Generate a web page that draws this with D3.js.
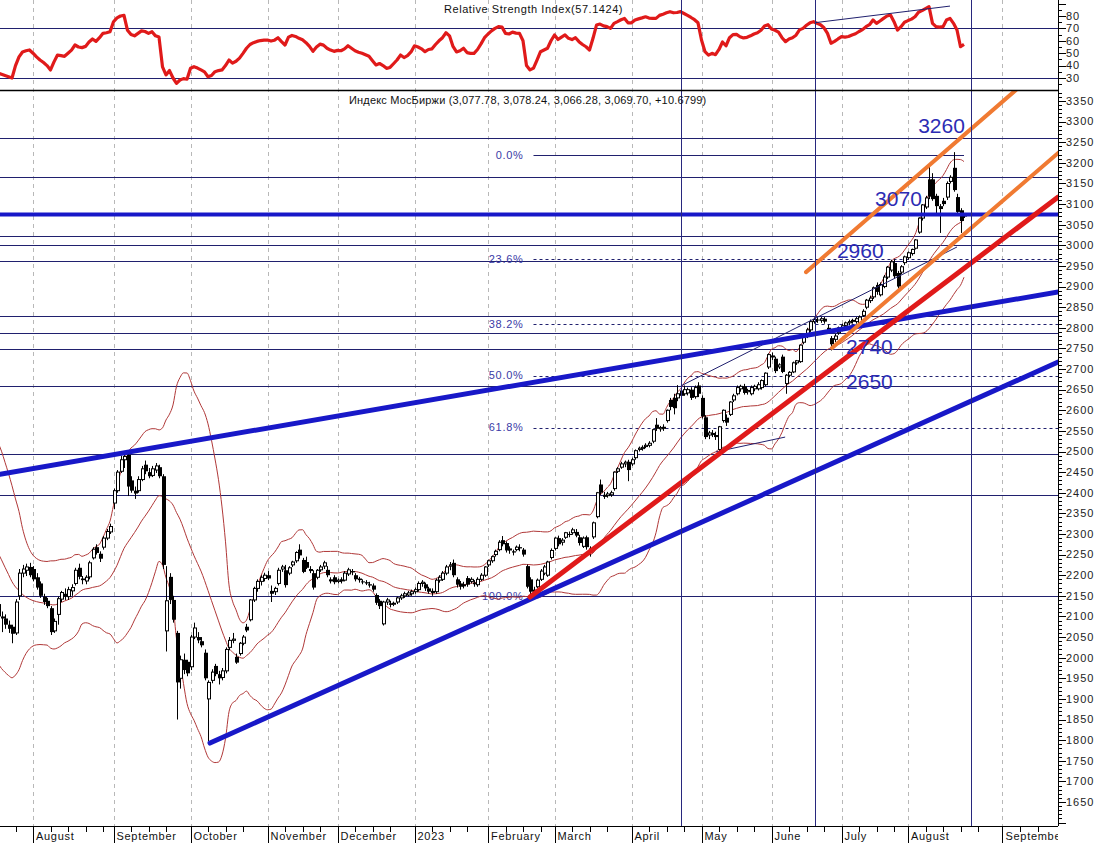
<!DOCTYPE html>
<html><head><meta charset="utf-8">
<script src="https://cdn.jsdelivr.net/npm/d3@7/dist/d3.min.js"></script>
<style>html,body{margin:0;padding:0;background:#fff;}svg{display:block;font-family:"Liberation Sans",Arial,sans-serif;}</style>
</head><body><svg id="c" width="1105" height="843"></svg>
<script>
// ---------------- DATA ----------------
const openP = [2130,2100,2095,2080,2075,2060,2150,2205,2212,2220,2215,2195,2180,2148,2138,2120,2065,2105,2142,2155,2148,2162,2180,2218,2192,2186,2196,2242,2268,2252,2268,2290,2305,2375,2405,2452,2480,2492,2430,2405,2405,2432,2468,2450,2442,2455,2462,2440,2065,2196,2140,2060,1950,1995,1990,1978,2050,2050,2040,2012,1900,1945,1980,1960,1952,1968,2025,2042,2002,2010,2035,2075,2092,2140,2168,2185,2192,2200,2162,2160,2180,2215,2212,2205,2225,2235,2262,2237,2232,2215,2205,2195,2213,2222,2213,2190,2195,2185,2190,2188,2203,2210,2200,2192,2185,2183,2178,2175,2152,2138,2082,2135,2132,2130,2135,2145,2150,2152,2155,2160,2165,2180,2178,2168,2162,2160,2188,2190,2205,2222,2230,2190,2180,2178,2193,2185,2182,2177,2190,2200,2225,2235,2250,2262,2285,2278,2265,2258,2262,2268,2262,2222,2190,2165,2172,2190,2205,2200,2243,2265,2290,2280,2292,2300,2303,2305,2292,2270,2292,2265,2293,2342,2420,2395,2393,2395,2410,2452,2462,2470,2475,2470,2485,2505,2507,2512,2515,2525,2565,2555,2560,2575,2625,2630,2630,2648,2640,2642,2650,2633,2660,2630,2583,2540,2545,2540,2505,2575,2582,2590,2625,2640,2652,2658,2645,2640,2652,2652,2655,2662,2705,2733,2725,2705,2730,2665,2685,2693,2715,2718,2765,2780,2795,2815,2820,2818,2822,2800,2775,2772,2788,2800,2806,2812,2816,2815,2812,2830,2850,2866,2875,2904,2880,2900,2923,2940,2957,2933,2935,2958,2970,2980,2993,3032,3066,3093,3160,3160,3120,3095,3108,3117,3155,3188,3117,3085,3077.78];
const highP = [2138,2112,2105,2090,2080,2142,2215,2225,2228,2230,2222,2205,2185,2155,2145,2125,2095,2148,2162,2168,2172,2178,2218,2228,2198,2200,2235,2268,2275,2258,2295,2312,2325,2410,2455,2490,2500,2500,2440,2415,2440,2465,2478,2460,2465,2472,2468,2445,2222,2205,2150,2065,2005,2010,1995,2055,2085,2062,2050,2020,1945,1972,1985,1968,1975,2025,2050,2060,2010,2038,2055,2082,2142,2172,2190,2200,2206,2210,2175,2172,2218,2225,2225,2222,2235,2258,2275,2242,2245,2222,2212,2215,2225,2235,2222,2195,2200,2192,2195,2210,2218,2215,2205,2196,2190,2188,2184,2180,2156,2142,2138,2145,2138,2136,2148,2155,2160,2162,2165,2170,2185,2188,2182,2172,2168,2192,2200,2210,2225,2232,2238,2195,2186,2184,2198,2195,2188,2195,2205,2222,2238,2248,2262,2285,2295,2282,2270,2262,2272,2275,2266,2226,2195,2172,2192,2215,2225,2235,2265,2292,2296,2290,2305,2306,2315,2312,2298,2294,2296,2270,2330,2402,2432,2402,2402,2405,2452,2462,2475,2478,2480,2485,2505,2512,2515,2520,2525,2555,2581,2562,2566,2602,2630,2640,2661,2658,2660,2655,2656,2660,2668,2636,2588,2550,2552,2548,2562,2602,2590,2622,2640,2660,2662,2664,2652,2660,2662,2668,2675,2692,2738,2740,2730,2714,2735,2688,2695,2718,2722,2760,2785,2800,2820,2825,2826,2826,2826,2808,2780,2785,2803,2810,2815,2820,2822,2826,2830,2845,2870,2878,2900,2910,2910,2928,2950,2965,2966,2938,2952,2975,2985,2992,3015,3068,3100,3120,3192,3175,3125,3100,3115,3155,3170,3226,3125,3090,3078.24];
const lowP = [2095,2062,2070,2060,2035,2055,2140,2195,2198,2195,2185,2165,2145,2128,2120,2055,2060,2080,2135,2140,2140,2150,2175,2190,2178,2178,2190,2238,2250,2232,2262,2285,2300,2360,2400,2448,2460,2392,2400,2385,2400,2428,2445,2435,2438,2448,2435,2215,2015,2130,2085,1850,1925,1960,1955,1970,2045,2035,2025,1945,1798,1938,1955,1935,1945,1962,2018,2035,1985,2005,2030,2062,2088,2135,2160,2175,2185,2188,2135,2152,2175,2208,2170,2200,2220,2230,2240,2205,2215,2205,2165,2190,2208,2215,2195,2180,2178,2180,2180,2185,2198,2200,2185,2182,2178,2176,2170,2160,2128,2118,2078,2128,2122,2125,2130,2140,2145,2148,2150,2155,2160,2172,2162,2155,2150,2155,2182,2186,2200,2212,2195,2170,2165,2168,2172,2180,2172,2172,2186,2196,2220,2230,2245,2258,2270,2255,2252,2248,2258,2258,2245,2168,2148,2150,2168,2186,2200,2196,2238,2260,2270,2272,2288,2292,2298,2292,2272,2266,2262,2245,2288,2338,2395,2385,2388,2390,2405,2448,2458,2462,2428,2465,2480,2500,2502,2508,2510,2520,2550,2548,2550,2570,2600,2590,2622,2630,2635,2636,2625,2628,2632,2580,2530,2530,2535,2528,2500,2570,2562,2586,2620,2636,2645,2638,2638,2636,2646,2648,2650,2658,2700,2722,2690,2700,2690,2640,2680,2690,2710,2715,2760,2775,2790,2810,2812,2812,2810,2785,2745,2765,2783,2795,2800,2806,2810,2810,2808,2826,2845,2860,2870,2880,2876,2896,2918,2935,2920,2895,2930,2952,2965,2975,2990,3028,3060,3088,3112,3108,3075,3030,3095,3110,3150,3130,3078,3030,3066.28];
const closeP = [2100,2095,2080,2070,2058,2135,2205,2215,2220,2200,2190,2170,2150,2135,2125,2062,2088,2143,2158,2148,2165,2170,2212,2196,2188,2195,2230,2263,2254,2240,2290,2306,2318,2405,2450,2480,2488,2415,2405,2398,2432,2458,2452,2440,2458,2465,2440,2225,2138,2140,2092,1940,1995,1970,1962,2050,2072,2042,2030,1950,1940,1965,1960,1950,1968,2020,2042,2045,1988,2035,2050,2066,2140,2168,2185,2195,2200,2192,2155,2168,2212,2220,2176,2218,2232,2255,2248,2208,2218,2210,2170,2212,2220,2230,2200,2185,2183,2188,2185,2205,2213,2207,2190,2188,2183,2180,2175,2165,2133,2125,2135,2140,2128,2132,2145,2150,2155,2157,2160,2165,2180,2183,2168,2160,2157,2188,2195,2205,2220,2225,2200,2177,2172,2173,2177,2190,2178,2190,2200,2220,2235,2245,2258,2280,2275,2260,2260,2255,2268,2265,2250,2172,2160,2158,2188,2210,2220,2232,2260,2290,2275,2285,2303,2298,2310,2296,2278,2290,2268,2255,2327,2400,2400,2390,2397,2400,2450,2458,2470,2474,2455,2480,2502,2508,2510,2515,2520,2553,2555,2558,2555,2600,2608,2605,2640,2635,2650,2650,2630,2655,2640,2585,2535,2545,2540,2535,2560,2600,2570,2620,2635,2655,2658,2642,2648,2655,2658,2662,2672,2690,2735,2728,2695,2710,2693,2685,2692,2715,2720,2758,2780,2795,2815,2820,2818,2822,2815,2788,2760,2780,2800,2805,2812,2815,2818,2822,2826,2840,2867,2872,2897,2887,2905,2923,2947,2960,2925,2900,2948,2972,2982,2990,3013,3066,3098,3115,3118,3112,3095,3088,3100,3150,3165,3134,3081,3059.02,3069.70];
const lastChange = 10.6799;
// closes of the 19 sessions before the first visible one (Bollinger warm-up only)
const warmupClose = [2430,2440,2420,2410,2390,2380,2400,2350,2300,2260,2220,2190,2160,2140,2120,2110,2100,2085,2075];
const rsiValues = [34,33,32,31,30,40,47,51,52,52.6,50,47,44.5,42.5,40,36.5,43,48.5,48,47.5,50,52.5,56.6,55,54.5,55.5,59,61.5,59.5,62.5,66,66.5,67.3,75.4,78.5,80,80.5,68.5,65,64,66,68,67.5,66,67.3,64,63,39,32.5,36,30,25.7,28.4,29.5,29,37.8,39.1,38,36.5,35,31,32,35.1,36,36.5,40,44.5,42,43.5,46,49.9,54,57,58.5,59.5,60.2,60.6,60.6,59.8,60.5,62.5,59.3,56.6,63,64.3,63.5,62,60.8,58.5,55.5,51.5,55,57.3,56.5,54,52.5,51.5,52.3,52,53.5,56,54,52,50.8,49.9,48.7,47.5,44,40.5,41.7,40,37.8,38.5,41.5,44.5,48.5,46.5,48,51,56,55,53.5,51.2,53,53.5,57,60,62.5,66.5,64,55.5,51,52,54,50.5,49.9,49.9,53,57.5,62.5,65.5,68,70,71.5,71,66,65.5,67,66.2,66,60,40,36.5,38,44.5,51.2,52.6,54,60,64.7,61,63,64.7,62,61,62.5,59.3,57,55.2,52.6,62,72.7,73.5,72,71.4,70,74.1,75.5,77,78,74.5,74.5,76.8,77.7,78.5,79.4,78.3,78.1,78.1,80.5,81.5,82.6,83.5,82.6,82.8,83.5,82,80.5,78.8,77,74.5,60.6,51.2,48.5,49.9,48.8,53,59,56,62.5,65,65.2,63.3,62.3,62.8,64,65.5,66.5,68.5,72,73,69.5,68.5,67,62.5,59.3,61.5,62.5,64.5,68.8,70,72.5,74.5,75.4,74.1,73,70.5,66,58,59.5,61.5,63.3,63,63.5,64.7,65.7,67.5,69,71.4,73,76.8,74.1,76,78.1,80,80.8,75.4,68.7,71.4,75,76.3,77.5,79.4,83,84.3,86,87.5,74.1,71.4,71,71.4,76.8,78.1,74.1,68.7,55.2,57.1424];
const monthLabels = ["August","September","October","November","December","2023","February","March","April","May","June","July","August","September"];
const monthTickIdx = [10,33,55,77,97,119,140,159,181,201,221,241,260,287];
const priceLabelTicks = d3.range(1650, 3351, 50);
const rsiLabelTicks = [30,40,50,60,70,80];
const rsiLevels = [70,30];
const hLevels = [3260,3165,3022,3000,2963,2828,2787,2749,2658,2495,2395,2150];
const keyLevel = 3075;
const verticalIdx = [195,233.5,278];
const fibPct = [0,23.6,38.2,50,61.8,100];
const fibHigh = 3218, fibLow = 2150, fibStartIdx = 153;
// trend lines: [index, price] endpoints
const blueUpper = [[0.57,2445],[302.9,2887]];
const blueLower = [[60.57,1793],[302.9,2717]];
const redLine = [[152,2147],[302.9,3117]];
const orangeUpper = [[230.86,2935],[290.86,3377]];
const orangeLower = [[238.3,2751],[302.9,3224]];
const navyThin1 = [[195.1,2659],[274,2996]];
const navyThin2 = [[205.1,2499],[224.9,2535]];
const rsiTrend = [[233.4,74.6],[272,88]];
const annoText = ["3260","3070","2960","2740","2650"];
const annoIdx = [262.9,250.6,239.7,242.3,242.3];
const annoPrice = [3272,3095,2969,2737,2652];

// ---------------- LAYOUT ----------------
const svg = d3.select("#c");
const plotR = 1058, rsiBot = 90, priceTop = 91, priceBot = 826;
const x = d3.scaleLinear().domain([0, 276]).range([-2, 964]);
const y = d3.scaleLinear().domain([1650, 3350]).range([802, 101]);
const yr = d3.scaleLinear().domain([30, 80]).range([78, 16]);
const cr = v => Math.round(v) + 0.5;
const NAVY = "#20206e", BLUE = "#1818c8", RED = "#e01a1a", ORANGE = "#f07a32", BB = "#b03838";

svg.append("rect").attr("width",1105).attr("height",843).attr("fill","#fff");
const defs = svg.append("defs");
defs.append("clipPath").attr("id","clipP").append("rect").attr("x",0).attr("y",priceTop).attr("width",plotR).attr("height",priceBot-priceTop);
defs.append("clipPath").attr("id","clipR").append("rect").attr("x",0).attr("y",0).attr("width",plotR).attr("height",rsiBot);
defs.append("clipPath").attr("id","clipAll").append("rect").attr("x",0).attr("y",0).attr("width",plotR).attr("height",843);

// month dashed grid
svg.append("g").selectAll("line").data(monthTickIdx).join("line")
  .attr("x1",d=>cr(x(d))).attr("x2",d=>cr(x(d))).attr("y1",0).attr("y2",priceBot)
  .attr("stroke","#b8b8b8").attr("stroke-dasharray","4,4").attr("stroke-width",1);

// RSI panel
const gR = svg.append("g").attr("clip-path","url(#clipR)");
gR.selectAll("line.lv").data(rsiLevels).join("line").attr("class","lv")
  .attr("x1",0).attr("x2",plotR).attr("y1",d=>cr(yr(d))).attr("y2",d=>cr(yr(d)))
  .attr("stroke",NAVY).attr("stroke-width",1);
gR.append("path").datum(rsiValues)
  .attr("d", d3.line().x((d,i)=>x(i)).y(d=>yr(d)))
  .attr("fill","none").attr("stroke",RED).attr("stroke-width",3.2).attr("stroke-linejoin","round");
gR.append("line").attr("x1",x(rsiTrend[0][0])).attr("y1",yr(rsiTrend[0][1]))
  .attr("x2",x(rsiTrend[1][0])).attr("y2",yr(rsiTrend[1][1])).attr("stroke",NAVY).attr("stroke-width",1);

// price panel
const gP = svg.append("g").attr("clip-path","url(#clipP)");
gP.selectAll("line.h").data(hLevels).join("line").attr("class","h")
  .attr("x1",0).attr("x2",plotR).attr("y1",d=>cr(y(d))).attr("y2",d=>cr(y(d)))
  .attr("stroke",NAVY).attr("stroke-width",1);

// fibonacci
const fibVal = p => fibHigh - (fibHigh - fibLow) * p / 100;
gP.selectAll("line.fib").data(fibPct).join("line").attr("class","fib")
  .attr("x1",x(fibStartIdx)).attr("x2",d=> d===0 ? x(276) : plotR)
  .attr("y1",d=>cr(y(fibVal(d)))).attr("y2",d=>cr(y(fibVal(d))))
  .attr("stroke",NAVY).attr("stroke-width",1)
  .attr("stroke-dasharray",d=> (d===0||d===100) ? null : "3,3");
gP.selectAll("text.fib").data(fibPct).join("text").attr("class","fib")
  .attr("x",x(fibStartIdx)-10).attr("y",d=>y(fibVal(d))).attr("dy","0.35em")
  .attr("text-anchor","end").attr("font-size",11).attr("letter-spacing",0.7).attr("fill","#3a3aa6")
  .text(d=>d3.format(".1f")(d)+"%");

// Bollinger bands (20, 2) computed from closes
const allClose = warmupClose.concat(closeP);
const off = warmupClose.length;
const bands = closeP.map((c,i)=>{
  const w = allClose.slice(Math.max(0,i+off-19), i+off+1);
  const m = d3.mean(w);
  const sd = Math.sqrt(d3.mean(w.map(v=>(v-m)*(v-m))));
  return {i, m, u:m+2*sd, l:m-2*sd};
});
["u","m","l"].forEach(k=>{
  gP.append("path").datum(bands)
    .attr("d", d3.line().x(d=>x(d.i)).y(d=>y(d[k])).curve(d3.curveMonotoneX))
    .attr("fill","none").attr("stroke",BB).attr("stroke-width",1);
});

// candles
const candles = closeP.map((c,i)=>({i, o:openP[i], h:highP[i], l:lowP[i], c}));
gP.append("g").selectAll("line").data(candles).join("line")
  .attr("x1",d=>cr(x(d.i))).attr("x2",d=>cr(x(d.i)))
  .attr("y1",d=>y(d.h)).attr("y2",d=>y(d.l)).attr("stroke","#000").attr("stroke-width",1);
gP.append("g").selectAll("rect").data(candles).join("rect")
  .attr("x",d=> d.c>=d.o ? Math.round(x(d.i))-0.5 : Math.round(x(d.i))-1)
  .attr("width",d=> d.c>=d.o ? 3 : 4)
  .attr("y",d=>y(Math.max(d.o,d.c)))
  .attr("height",d=>Math.max(1, Math.abs(y(d.o)-y(d.c))))
  .attr("fill",d=> d.c>=d.o ? "#fff" : "#000")
  .attr("stroke",d=> d.c>=d.o ? "#000" : "none").attr("stroke-width",1);

// thin navy trend lines
[navyThin1, navyThin2].forEach(s=>{
  gP.append("line").attr("x1",x(s[0][0])).attr("y1",y(s[0][1])).attr("x2",x(s[1][0])).attr("y2",y(s[1][1]))
    .attr("stroke",NAVY).attr("stroke-width",1);
});
// thick lines
gP.append("line").attr("x1",0).attr("x2",plotR).attr("y1",y(keyLevel)).attr("y2",y(keyLevel))
  .attr("stroke",BLUE).attr("stroke-width",4);
const thick = [[blueUpper,BLUE,5],[blueLower,BLUE,5],[redLine,RED,5],[orangeUpper,ORANGE,4],[orangeLower,ORANGE,4]];
thick.forEach(([s,col,w])=>{
  gP.append("line").attr("x1",x(s[0][0])).attr("y1",y(s[0][1])).attr("x2",x(s[1][0])).attr("y2",y(s[1][1]))
    .attr("stroke",col).attr("stroke-width",w).attr("stroke-linecap","round");
});

// vertical navy lines
svg.append("g").selectAll("line").data(verticalIdx).join("line")
  .attr("x1",d=>cr(x(d))).attr("x2",d=>cr(x(d))).attr("y1",0).attr("y2",priceBot)
  .attr("stroke","#28287e").attr("stroke-width",1);

// annotations
svg.append("g").selectAll("text").data(annoText).join("text")
  .attr("x",(d,i)=>x(annoIdx[i])).attr("y",(d,i)=>y(annoPrice[i]))
  .attr("font-size",21).attr("fill","#2c2cb4").text(d=>d);

// separator and axes
svg.append("line").attr("x1",0).attr("x2",plotR).attr("y1",90.5).attr("y2",90.5).attr("stroke","#000").attr("stroke-width",1.5);
svg.append("line").attr("x1",plotR+0.5).attr("x2",plotR+0.5).attr("y1",0).attr("y2",priceBot).attr("stroke","#000");
svg.append("line").attr("x1",0).attr("x2",plotR).attr("y1",priceBot+0.5).attr("y2",priceBot+0.5).attr("stroke","#000");

// price axis ticks
const pt = d3.range(1600, 3380, 10).filter(v=>y(v)>=priceTop+1 && y(v)<=priceBot-1);
svg.append("g").selectAll("line").data(pt).join("line")
  .attr("x1",plotR).attr("x2",d=> d%50===0 ? plotR+8 : plotR+4)
  .attr("y1",d=>cr(y(d))).attr("y2",d=>cr(y(d))).attr("stroke","#000");
svg.append("g").selectAll("text").data(priceLabelTicks).join("text")
  .attr("x",1066).attr("y",d=>y(d)).attr("dy","0.35em").attr("font-size",11)
  .attr("letter-spacing",1).attr("fill","#222").text(d=>d);
// rsi axis
const rt = d3.range(25, 95, 5).filter(v=>yr(v)>=1 && yr(v)<=rsiBot-2);
svg.append("g").selectAll("line").data(rt).join("line")
  .attr("x1",plotR).attr("x2",d=> d%10===0 ? plotR+8 : plotR+4)
  .attr("y1",d=>cr(yr(d))).attr("y2",d=>cr(yr(d))).attr("stroke","#000");
svg.append("g").selectAll("text").data(rsiLabelTicks).join("text")
  .attr("x",1066).attr("y",d=>yr(d)).attr("dy","0.35em").attr("font-size",11)
  .attr("letter-spacing",1).attr("fill","#222").text(d=>d);

// time axis
svg.append("g").selectAll("line").data(monthTickIdx).join("line")
  .attr("x1",d=>cr(x(d))).attr("x2",d=>cr(x(d))).attr("y1",priceBot).attr("y2",843).attr("stroke","#000");
const minor = [];
monthTickIdx.forEach((m,k)=>{ const nx = k<monthTickIdx.length-1 ? monthTickIdx[k+1] : 300; for(let t=m+5; t<nx-2; t+=5) minor.push(t); });
minor.push(5, 0);
svg.append("g").selectAll("line").data(minor.filter(t=>x(t)>0 && x(t)<plotR)).join("line")
  .attr("x1",d=>cr(x(d))).attr("x2",d=>cr(x(d))).attr("y1",priceBot).attr("y2",priceBot+6).attr("stroke","#000");
svg.append("g").attr("clip-path","url(#clipAll)").selectAll("text").data(monthLabels).join("text")
  .attr("x",(d,i)=>x(monthTickIdx[i])+3).attr("y",840).attr("font-size",11).attr("letter-spacing",0.7)
  .attr("fill","#111").text(d=>d);

// titles
const f2 = d3.format(",.2f");
svg.append("text").attr("x",444).attr("y",13).attr("font-size",11).attr("letter-spacing",0.55).attr("fill","#111")
  .text("Relative Strength Index(" + d3.format(".4f")(rsiValues[rsiValues.length-1]) + ")");
const L = closeP.length-1;
svg.append("text").attr("x",349).attr("y",104).attr("font-size",11).attr("letter-spacing",0.17).attr("fill","#111")
  .text("Индекс МосБиржи (" + [openP[L],highP[L],lowP[L],closeP[L]].map(f2).join(", ") + ", +" + d3.format(".4f")(lastChange) + ")");
</script></body></html>
